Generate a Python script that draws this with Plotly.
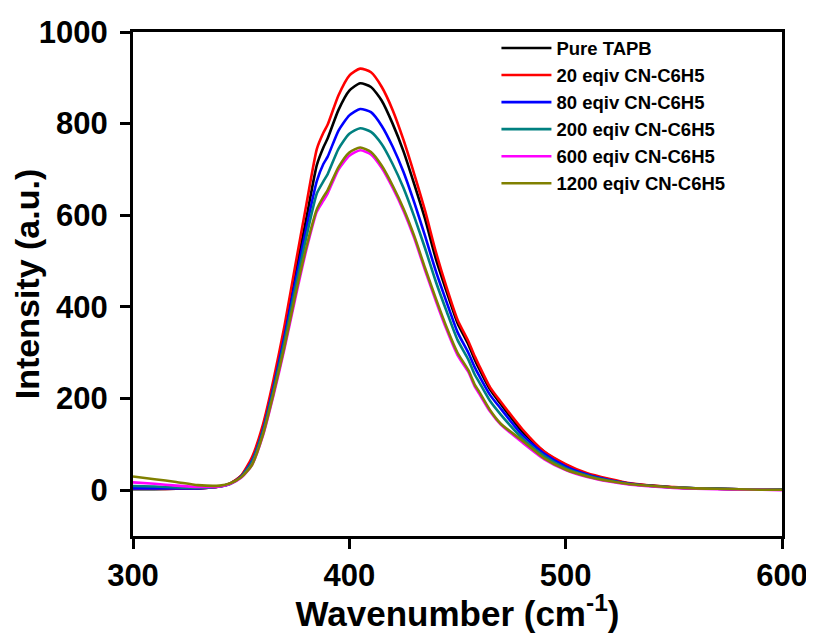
import plotly.graph_objects as go

wavenumber = [300, 310, 320, 330, 340, 345, 350, 355, 360, 365, 370, 375, 380, 385, 388, 390,
              395, 400, 405, 410, 415, 420, 425, 430, 435, 440, 445, 450, 455, 458, 460, 465,
              470, 480, 490, 500, 510, 520, 530, 540, 550, 560, 570, 580, 590, 600]

pure_tapb = [2, 2, 3, 4, 8, 15, 31, 67, 136, 234, 345, 470, 590, 710, 748, 768,
             830, 872, 888, 880, 850, 800, 740, 668, 592, 505, 433, 365, 318, 285, 265, 220,
             188, 127, 84, 55, 35, 23, 14, 10, 6, 4, 3, 2, 1, 1]

eq20 = [3, 3, 3, 4, 8, 15, 32, 72, 142, 242, 358, 490, 620, 745, 780, 798,
        862, 905, 920, 912, 880, 830, 765, 690, 610, 520, 442, 372, 325, 292, 272, 225,
        193, 133, 85, 57, 37, 25, 15, 10, 7, 4, 3, 2, 1, 1]

eq80 = [4, 4, 4, 4, 8, 14, 30, 64, 130, 226, 335, 455, 570, 675, 712, 728,
        785, 818, 832, 825, 795, 750, 695, 628, 555, 478, 410, 345, 300, 268, 250, 208,
        178, 120, 80, 52, 34, 22, 14, 9, 6, 4, 3, 2, 1, 1]

eq200 = [9, 8, 6, 5, 8, 14, 29, 62, 127, 220, 325, 440, 550, 648, 674, 690,
         745, 778, 790, 782, 755, 712, 660, 597, 528, 455, 390, 328, 285, 252, 236, 195,
         165, 113, 75, 48, 32, 21, 13, 9, 6, 4, 3, 2, 1, 1]

eq600 = [17, 14, 10, 7, 8, 14, 27, 55, 118, 208, 308, 418, 522, 608, 632, 648,
         700, 730, 742, 733, 703, 660, 610, 550, 480, 413, 350, 295, 258, 226, 211, 172,
         143, 104, 68, 44, 29, 19, 12, 8, 5, 3, 2, 1, 1, 0]

eq1200 = [30, 24, 18, 11, 10, 15, 28, 55, 120, 212, 313, 425, 528, 613, 640, 655,
          705, 737, 748, 738, 708, 665, 615, 555, 485, 418, 355, 300, 262, 230, 215, 175,
          145, 108, 70, 45, 30, 20, 13, 9, 6, 4, 3, 2, 1, 1]

series_names = ["Pure TAPB", "20 eqiv CN-C6H5", "80 eqiv CN-C6H5",
                "200 eqiv CN-C6H5", "600 eqiv CN-C6H5", "1200 eqiv CN-C6H5"]
series_values = [pure_tapb, eq20, eq80, eq200, eq600, eq1200]
series_colors = ["#000000", "#FF0000", "#0000FF", "#008080", "#FF00FF", "#808000"]

FONT = "Arial, Liberation Sans, sans-serif"

fig = go.Figure()
for i, (name, vals, col) in enumerate(zip(series_names, series_values, series_colors)):
    fig.add_trace(go.Scatter(
        x=wavenumber, y=vals, mode="lines", name=name,
        line=dict(color=col, width=2.6, shape="spline", smoothing=0.6),
        legendgroup=f"g{i}",
    ))

axis_common = dict(
    showline=True, linecolor="black", linewidth=3, mirror=True,
    ticks="outside", ticklen=10, tickwidth=3, tickcolor="black",
    showgrid=False, zeroline=False, automargin=False,
    tickfont=dict(family=FONT, size=31, color="black", weight="bold"),
)

fig.update_layout(
    width=806, height=625,
    margin=dict(l=125, r=32, t=24, b=97),
    paper_bgcolor="white", plot_bgcolor="white",
    showlegend=True,
    legend=dict(
        x=0.56, y=1.005, xanchor="left", yanchor="top",
        bgcolor="rgba(0,0,0,0)", borderwidth=0,
        font=dict(family=FONT, size=18.5, color="black", weight="bold"),
        tracegroupgap=0, itemwidth=50,
    ),
    xaxis=dict(
        range=[300, 600], tickvals=[300, 400, 500, 600],
        title=dict(text="Wavenumber (cm<sup>-1</sup>)", standoff=2,
                   font=dict(family=FONT, size=35, color="black", weight="bold")),
        ticklabelstandoff=0,
        **axis_common,
    ),
    yaxis=dict(
        range=[-100, 1000], tickvals=[0, 200, 400, 600, 800, 1000],
        title=dict(text="Intensity (a.u.)", standoff=13,
                   font=dict(family=FONT, size=34, color="black", weight="bold")),
        ticklabelstandoff=6,
        **axis_common,
    ),
)

fig.write_html("out.html")
